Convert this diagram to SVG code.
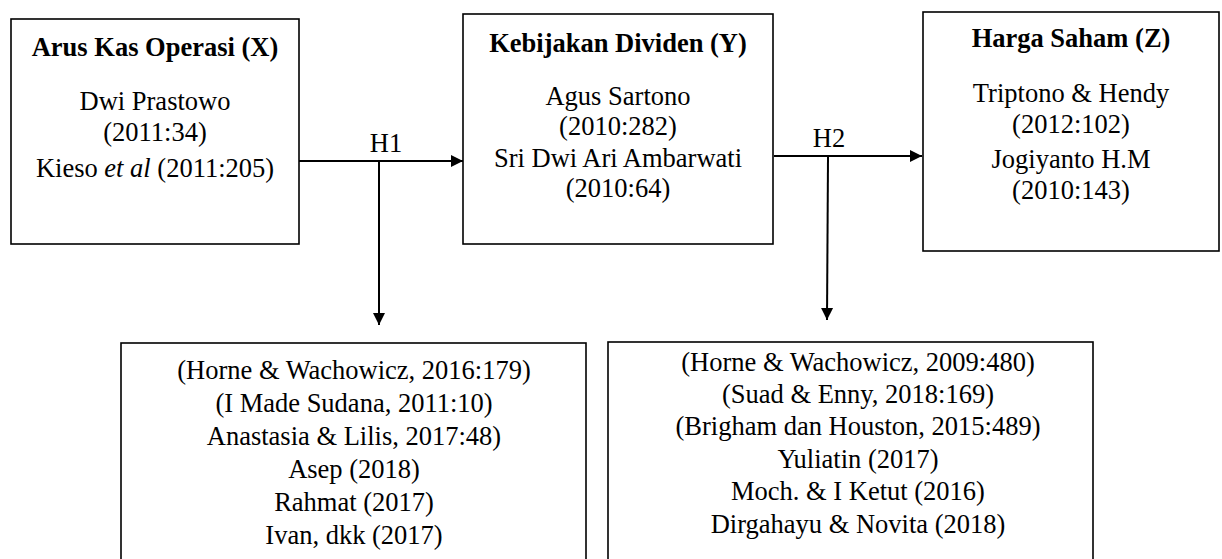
<svg xmlns="http://www.w3.org/2000/svg" width="1222" height="559" viewBox="0 0 1222 559">
<style>
.box{fill:#fff;stroke:#000;stroke-width:1.6}
text{font-family:'Liberation Serif','Times New Roman',Tinos,'DejaVu Serif',serif;font-size:26.5px;fill:#000;text-anchor:middle}
.t{font-weight:bold}
.ln{stroke:#000;stroke-width:2;fill:none}
</style>
<defs>
<marker id="ah" viewBox="0 0 10 10" refX="10" refY="5" markerWidth="6" markerHeight="7.5" markerUnits="strokeWidth" orient="auto">
<path d="M0,0 L10,5 L0,10 Z" fill="#000"/>
</marker>
</defs>
<g id="nodeX" font-family="Liberation Serif, serif">
<rect class="box" x="11" y="19" width="288" height="225"/>
<text class="t" x="155" y="56">Arus Kas Operasi (X)</text>
<text x="155" y="110">Dwi Prastowo</text>
<text x="155" y="141">(2011:34)</text>
<text x="155" y="177">Kieso <tspan font-style="italic">et al</tspan> (2011:205)</text>
</g>
<g id="nodeY">
<rect class="box" x="463" y="14" width="310" height="230"/>
<text class="t" x="618" y="52">Kebijakan Dividen (Y)</text>
<text x="618" y="105">Agus Sartono</text>
<text x="618" y="135">(2010:282)</text>
<text x="618" y="167">Sri Dwi Ari Ambarwati</text>
<text x="618" y="197">(2010:64)</text>
</g>
<g id="nodeZ">
<rect class="box" x="923" y="12" width="296" height="239"/>
<text class="t" x="1071" y="47">Harga Saham (Z)</text>
<text x="1071" y="102">Triptono &amp; Hendy</text>
<text x="1071" y="133">(2012:102)</text>
<text x="1071" y="168">Jogiyanto H.M</text>
<text x="1071" y="199">(2010:143)</text>
</g>
<g id="nodeH1refs">
<rect class="box" x="121" y="343" width="465" height="230"/>
<text x="354" y="379">(Horne &amp; Wachowicz, 2016:179)</text>
<text x="354" y="412">(I Made Sudana, 2011:10)</text>
<text x="354" y="445">Anastasia &amp; Lilis, 2017:48)</text>
<text x="354" y="478">Asep (2018)</text>
<text x="354" y="511">Rahmat (2017)</text>
<text x="354" y="544">Ivan, dkk (2017)</text>
</g>
<g id="nodeH2refs">
<rect class="box" x="608" y="342" width="485" height="230"/>
<text x="858" y="371">(Horne &amp; Wachowicz, 2009:480)</text>
<text x="858" y="403">(Suad &amp; Enny, 2018:169)</text>
<text x="858" y="435">(Brigham dan Houston, 2015:489)</text>
<text x="858" y="468">Yuliatin (2017)</text>
<text x="858" y="500">Moch. &amp; I Ketut (2016)</text>
<text x="858" y="533">Dirgahayu &amp; Novita (2018)</text>
</g>
<g id="connectors">
<line class="ln" x1="299" y1="161" x2="463" y2="161" marker-end="url(#ah)"/>
<line class="ln" x1="379" y1="161" x2="379" y2="325" marker-end="url(#ah)"/>
<line class="ln" x1="774" y1="156" x2="922" y2="156" marker-end="url(#ah)"/>
<line class="ln" x1="828" y1="157" x2="827" y2="320" marker-end="url(#ah)"/>
<text x="386" y="152">H1</text>
<text x="829" y="147">H2</text>
</g>
</svg>
